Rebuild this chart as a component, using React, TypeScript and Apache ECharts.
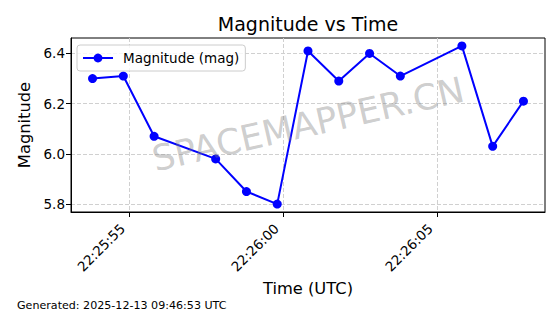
import React, { useEffect, useRef } from "react";
import * as echarts from "echarts";

const times = [
  "22:25:53.8", "22:25:54.8", "22:25:55.8", "22:25:57.8", "22:25:58.8",
  "22:25:59.8", "22:26:00.8", "22:26:01.8", "22:26:02.8", "22:26:03.8",
  "22:26:05.8", "22:26:06.8", "22:26:07.8",
];
const magnitudes = [6.30, 6.31, 6.07, 5.98, 5.85, 5.80, 6.41, 6.29, 6.40, 6.31, 6.43, 6.03, 6.21];
const xTickLabels = ["22:25:55", "22:26:00", "22:26:05"];
const yTicks = [5.8, 6.0, 6.2, 6.4];

const titleText = "Magnitude vs Time";
const seriesName = "Magnitude (mag)";
const xName = "Time (UTC)";
const yName = "Magnitude";
const watermark = "SPACEMAPPER.CN";
const footer = "Generated: 2025-12-13 09:46:53 UTC";

const FONT = "DejaVu Sans";

function toSec(s: string): number {
  const [h, m, sec] = s.split(":");
  return parseInt(h, 10) * 3600 + parseInt(m, 10) * 60 + parseFloat(sec);
}
function fmtSec(v: number): string {
  const t = Math.round(v);
  const h = Math.floor(t / 3600);
  const m = Math.floor((t % 3600) / 60);
  const s = t % 60;
  const p = (n: number) => String(n).padStart(2, "0");
  return `${p(h)}:${p(m)}:${p(s)}`;
}

export default function App() {
  const ref = useRef<HTMLDivElement>(null);
  useEffect(() => {
    if (!ref.current) return;
    document.body.style.margin = "0";
    const chart = echarts.init(ref.current, undefined, { renderer: "svg" });
    const xs = times.map(toSec);
    const xMin0 = Math.min(...xs), xMax0 = Math.max(...xs);
    const yMin0 = Math.min(...magnitudes), yMax0 = Math.max(...magnitudes);
    const xm = (xMax0 - xMin0) * 0.05;
    const ym = (yMax0 - yMin0) * 0.05;
    const xTicks = xTickLabels.map(toSec);

    chart.setOption({
      animation: false,
      backgroundColor: "#ffffff",
      textStyle: { fontFamily: FONT },
      grid: {
        left: 71, right: 15, top: 38, bottom: 102,
        show: true, borderColor: "#000", borderWidth: 1, backgroundColor: "transparent",
      },
      legend: {
        left: 77, top: 45,
        padding: [6, 6, 6, 5],
        itemWidth: 30, itemHeight: 11,
        borderColor: "#cccccc", borderWidth: 1, borderRadius: 3,
        backgroundColor: "rgba(255,255,255,0.8)",
        textStyle: { fontFamily: FONT, fontSize: 13.5, color: "#000", padding: [0, 0, 0, 5] },
        data: [seriesName],
      },
      xAxis: {
        type: "value",
        min: xMin0 - xm,
        max: xMax0 + xm,
        name: xName,
        nameLocation: "middle",
        nameGap: 68,
        nameTextStyle: { fontFamily: FONT, fontSize: 16.3, color: "#000" },
        axisLine: { show: true, onZero: false, lineStyle: { color: "#000", width: 1 } },
        axisTick: { show: true, length: 5, customValues: xTicks, lineStyle: { color: "#000" } },
        axisLabel: {
          customValues: xTicks,
          rotate: 45, margin: 7,
          padding: [0, 10, 0, 0],
          fontFamily: FONT, fontSize: 13.5, color: "#000",
          formatter: (v: number) => fmtSec(v),
        },
        splitLine: { show: true, lineStyle: { color: "#d0d0d0", type: [4, 2], width: 1 } },
      },
      yAxis: {
        type: "value",
        min: yMin0 - ym,
        max: yMax0 + ym,
        name: yName,
        nameLocation: "middle",
        nameGap: 36,
        nameTextStyle: { fontFamily: FONT, fontSize: 16.3, color: "#000" },
        axisLine: { show: true, onZero: false, lineStyle: { color: "#000", width: 1 } },
        axisTick: { show: true, length: 5, customValues: yTicks, lineStyle: { color: "#000" } },
        axisLabel: {
          customValues: yTicks,
          margin: 6,
          fontFamily: FONT, fontSize: 13.5, color: "#000",
          formatter: (v: number) => v.toFixed(1),
        },
        splitLine: { show: true, lineStyle: { color: "#d0d0d0", type: [4, 2], width: 1 } },
      },
      series: [
        {
          name: seriesName,
          type: "line",
          data: xs.map((x, i) => [x, magnitudes[i]]),
          symbol: "circle",
          symbolSize: 9,
          color: "#0000ff",
          lineStyle: { color: "#0000ff", width: 2 },
          itemStyle: { color: "#0000ff" },
          z: 3,
        },
      ],
      graphic: [
        {
          type: "text",
          x: 308, y: 24,
          style: {
            text: titleText, fontFamily: FONT, fontSize: 19, fill: "#000",
            textAlign: "center", textVerticalAlign: "middle",
          },
        },
        {
          type: "text",
          x: 308, y: 124,
          rotation: (12.8 * Math.PI) / 180,
          z: 10,
          style: {
            text: watermark, fontFamily: FONT, fontSize: 35.5, fill: "rgba(128,128,128,0.4)",
            textAlign: "center", textVerticalAlign: "middle",
          },
        },
        {
          type: "text",
          x: 17, y: 305,
          style: {
            text: footer, fontFamily: FONT, fontSize: 11.1, fill: "#000",
            textAlign: "left", textVerticalAlign: "middle",
          },
        },
      ],
    });
    return () => chart.dispose();
  }, []);
  return <div ref={ref} style={{ width: 560, height: 314 }} />;
}
